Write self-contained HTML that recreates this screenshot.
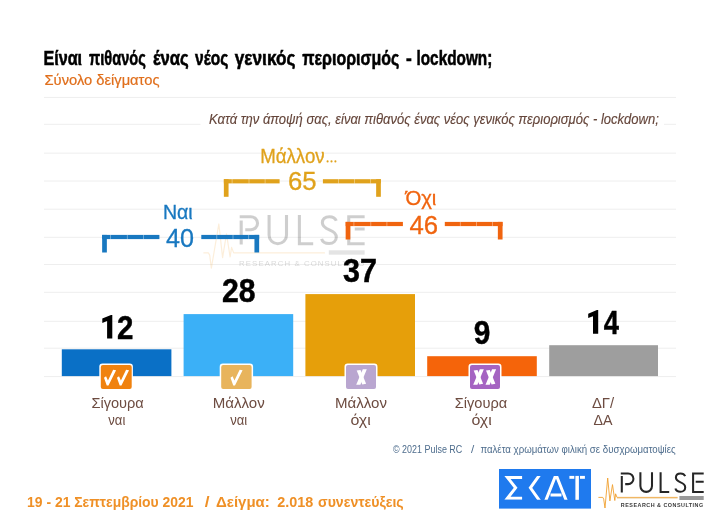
<!DOCTYPE html>
<html lang="el">
<head>
<meta charset="utf-8">
<title>Pulse RC</title>
<style>
html,body{margin:0;padding:0;background:#fff;}
body{width:716px;height:521px;overflow:hidden;font-family:"Liberation Sans",sans-serif;}
svg{display:block;will-change:transform;}
text{font-family:"Liberation Sans",sans-serif;}
.b{font-weight:bold;}
.i{font-style:italic;}
.grid line{stroke:#eeeeee;stroke-width:1;}
.val{font-weight:bold;font-size:33px;fill:#000;text-anchor:middle;stroke:#000;stroke-width:0.45px;}
.cat{font-size:15.5px;fill:#6d4c41;text-anchor:middle;}
</style>
</head>
<body>
<svg width="716" height="521" viewBox="0 0 716 521">
<rect width="716" height="521" fill="#fff"/>

<!-- gridlines -->
<g class="grid">
<line x1="44" x2="676" y1="97.4" y2="97.4"/>
<line x1="44" x2="676" y1="124.3" y2="124.3"/>
<line x1="44" x2="676" y1="153.15" y2="153.15"/>
<line x1="44" x2="676" y1="181" y2="181"/>
<line x1="44" x2="676" y1="209.2" y2="209.2"/>
<line x1="44" x2="676" y1="237.3" y2="237.3"/>
<line x1="44" x2="676" y1="264.5" y2="264.5"/>
<line x1="44" x2="676" y1="292.3" y2="292.3"/>
<line x1="44" x2="676" y1="321.3" y2="321.3"/>
<line x1="44" x2="676" y1="348.2" y2="348.2"/>
<line x1="44" x2="676" y1="376.6" y2="376.6"/>
</g>

<!-- title -->
<g class="b" font-size="20" fill="#000" stroke="#000" stroke-width="0.55">
<text x="43.4" y="65.3" textLength="38.7" lengthAdjust="spacingAndGlyphs">Είναι</text>
<text x="89.0" y="65.3" textLength="56.8" lengthAdjust="spacingAndGlyphs">πιθανός</text>
<text x="152.9" y="65.3" textLength="35.8" lengthAdjust="spacingAndGlyphs">ένας</text>
<text x="195.0" y="65.3" textLength="33.3" lengthAdjust="spacingAndGlyphs">νέος</text>
<text x="234.8" y="65.3" textLength="60.6" lengthAdjust="spacingAndGlyphs">γενικός</text>
<text x="302.3" y="65.3" textLength="97.0" lengthAdjust="spacingAndGlyphs">περιορισμός</text>
<text x="406.0" y="65.3" textLength="5.8" lengthAdjust="spacingAndGlyphs">-</text>
<text x="416.5" y="65.3" textLength="75.8" lengthAdjust="spacingAndGlyphs">lockdown;</text>
</g>
<text x="44.5" y="85.2" font-size="15" fill="#e06f1c" stroke="#e06f1c" stroke-width="0.2" textLength="115" lengthAdjust="spacingAndGlyphs">Σύνολο δείγματος</text>

<!-- question -->
<rect x="200.5" y="108" width="463.5" height="22" fill="#fff"/>
<text class="i" x="209" y="123.9" font-size="15" fill="#65463b" stroke="#65463b" stroke-width="0.15" textLength="449.8" lengthAdjust="spacingAndGlyphs">Κατά την άποψή σας, είναι πιθανός ένας νέος γενικός περιορισμός - lockdown;</text>

<!-- watermark -->
<g id="wm" opacity="0.22" transform="translate(239.4,214.9) scale(1.5,1.462)">
  <g fill="none" stroke="#262626" stroke-width="2.05">
    <path d="M1.2 3.9 V20.3 M0.2 1.2 H7.6 A4.5 4.5 0 0 1 7.6 10.2 H3.9"/>
    <path d="M19.8 0 V13.9 A5.8 5.8 0 0 0 31.4 13.9 V0"/>
    <path d="M40 0 V19.7 H49.2"/>
    <path d="M64.6 4 C63.8 2.2 62 1.2 60 1.2 C57 1.2 55.3 3 55.3 5.4 C55.3 8 57.5 9.2 60 10.2 C62.8 11.3 64.6 12.6 64.6 15.2 C64.6 17.8 62.6 19.6 59.8 19.6 C57.2 19.6 55.3 18.2 54.8 16.4"/>
    <path d="M83.5 1.2 H72.9 V19.7 H83.5 M76.9 9.6 H83.5"/>
  </g>
  <path d="M-24 26 H-20.6 L-19.8 27.6 L-18.7 36.4 L-13.7 6.2 L-11.2 29.2 L-8.6 13 L-6.2 28.8 L-5.2 22.2 L-3.8 26 H57" fill="none" stroke="#f0a030" stroke-width="0.8" stroke-opacity="0.8" stroke-linejoin="round"/>
  <rect x="59.6" y="24.2" width="23.9" height="3" fill="#8a8a8a"/>
  <text x="-0.2" y="35.2" font-size="5.2" fill="#555" textLength="83.5" lengthAdjust="spacing">RESEARCH &amp; CONSULTING</text>
</g>

<!-- bars -->
<rect x="61.8" y="349.3" width="109.6" height="26.8" fill="#0a70c6"/>
<rect x="183.6" y="314.1" width="109.6" height="62" fill="#3bb0f7"/>
<rect x="305.4" y="294.1" width="109.6" height="82" fill="#e69f0a"/>
<rect x="427.2" y="356.2" width="109.6" height="19.9" fill="#f5640a"/>
<rect x="549.2" y="345.2" width="108.8" height="30.9" fill="#9e9e9e"/>

<!-- values -->
<polygon fill="#000" points="112.30,315.00 112.30,338.60 107.10,338.60 107.10,321.10 102.30,322.90 102.30,318.60 111.00,315.00"/>
<text class="val" x="125.1" y="338.6" textLength="16.4" lengthAdjust="spacingAndGlyphs">2</text>
<text class="val" x="238.85" y="302" textLength="33.6" lengthAdjust="spacingAndGlyphs">28</text>
<text class="val" x="360.05" y="281.9" textLength="34" lengthAdjust="spacingAndGlyphs">37</text>
<text class="val" x="482.1" y="344.4" textLength="16.6" lengthAdjust="spacingAndGlyphs">9</text>
<polygon fill="#000" points="598.20,310.10 598.20,333.70 593.00,333.70 593.00,316.20 588.20,318.00 588.20,313.70 596.90,310.10"/>
<text class="val" x="611.4" y="333.7" textLength="15.2" lengthAdjust="spacingAndGlyphs">4</text>

<!-- brackets -->
<g fill="#1878c0">
  <rect x="102.15" y="234.90" width="4.7" height="17.6"/>
  <rect x="102.15" y="234.90" width="57.25" height="4.2"/>
  <rect x="254.45" y="234.90" width="4.7" height="17.6"/>
  <rect x="201.30" y="234.90" width="57.85" height="4.2"/>
</g>
<g fill="#fff" opacity="0.45"><rect x="110.00" y="234.70" width="0.8" height="4.6000000000000005"/><rect x="126.90" y="234.70" width="0.8" height="4.6000000000000005"/><rect x="143.00" y="234.70" width="0.8" height="4.6000000000000005"/><rect x="216.40" y="234.70" width="0.8" height="4.6000000000000005"/><rect x="232.60" y="234.70" width="0.8" height="4.6000000000000005"/><rect x="248.30" y="234.70" width="0.8" height="4.6000000000000005"/></g>
<text x="162.9" y="218.6" font-size="19.5" fill="#1878c0" stroke="#1878c0" stroke-width="0.3" textLength="29.8" lengthAdjust="spacingAndGlyphs">Ναι</text>
<text x="180" y="246.8" font-size="25.4" fill="#1878c0" stroke="#1878c0" stroke-width="0.3" text-anchor="middle" textLength="28" lengthAdjust="spacingAndGlyphs">40</text>
<g fill="#e0a21c">
  <rect x="223.85" y="179.20" width="4.7" height="17.6"/>
  <rect x="223.85" y="179.20" width="55.75" height="4.2"/>
  <rect x="376.15" y="179.20" width="4.7" height="17.6"/>
  <rect x="322.90" y="179.20" width="57.95" height="4.2"/>
  <circle cx="327.6" cy="161.4" r="1.05"/>
  <circle cx="331.5" cy="161.4" r="1.05"/>
  <circle cx="335.4" cy="161.4" r="1.05"/>
</g>
<g fill="#fff" opacity="0.45"><rect x="231.70" y="179.00" width="0.8" height="4.6000000000000005"/><rect x="248.60" y="179.00" width="0.8" height="4.6000000000000005"/><rect x="264.70" y="179.00" width="0.8" height="4.6000000000000005"/><rect x="338.00" y="179.00" width="0.8" height="4.6000000000000005"/><rect x="354.00" y="179.00" width="0.8" height="4.6000000000000005"/><rect x="370.10" y="179.00" width="0.8" height="4.6000000000000005"/></g>
<text x="260.2" y="162.8" font-size="20" fill="#e0a21c" stroke="#e0a21c" stroke-width="0.3" textLength="64.4" lengthAdjust="spacingAndGlyphs">Μάλλον</text>
<text x="302.2" y="190.4" font-size="25.4" fill="#e0a21c" stroke="#e0a21c" stroke-width="0.3" text-anchor="middle" textLength="28.6" lengthAdjust="spacingAndGlyphs">65</text>
<g fill="#f0640f">
  <rect x="345.65" y="221.90" width="4.7" height="17.6"/>
  <rect x="345.65" y="221.90" width="57.25" height="4.2"/>
  <rect x="497.85" y="221.90" width="4.7" height="17.6"/>
  <rect x="444.80" y="221.90" width="57.75" height="4.2"/>
</g>
<g fill="#fff" opacity="0.45"><rect x="353.50" y="221.70" width="0.8" height="4.6000000000000005"/><rect x="370.40" y="221.70" width="0.8" height="4.6000000000000005"/><rect x="386.50" y="221.70" width="0.8" height="4.6000000000000005"/><rect x="459.90" y="221.70" width="0.8" height="4.6000000000000005"/><rect x="476.20" y="221.70" width="0.8" height="4.6000000000000005"/><rect x="492.10" y="221.70" width="0.8" height="4.6000000000000005"/></g>
<text x="405.4" y="205" font-size="20" fill="#f0640f" stroke="#f0640f" stroke-width="0.3" textLength="31" lengthAdjust="spacingAndGlyphs">Όχι</text>
<text x="423.8" y="233.5" font-size="26" fill="#f0640f" stroke="#f0640f" stroke-width="0.3" text-anchor="middle" textLength="28.6" lengthAdjust="spacingAndGlyphs">46</text>

<!-- icons -->
<g id="icons">
  <rect x="99.3" y="363.5" width="33.6" height="26.6" rx="3.2" fill="#fff"/>
  <rect x="100.8" y="365" width="30.9" height="24.1" rx="2" fill="#f0820f"/>
  <polygon points="103.99,377.63 106.06,376.24 107.96,380.56 113.14,369.68 116.08,370.20 108.48,385.40 106.75,385.40" fill="#fff"/>
  <polygon points="116.94,377.63 119.01,376.24 120.91,380.56 126.09,369.68 129.03,370.20 121.43,385.40 119.70,385.40" fill="#fff"/>

  <rect x="219.7" y="363.5" width="33.4" height="26.6" rx="3.2" fill="#fff"/>
  <rect x="221.2" y="365" width="30.4" height="24.1" rx="2" fill="#e8b45c"/>
  <polygon points="230.49,377.63 232.56,376.24 234.46,380.56 239.64,369.68 242.58,370.20 234.98,385.40 233.25,385.40" fill="#fff"/>

  <rect x="344.5" y="363.5" width="33" height="26.6" rx="3.2" fill="#fff"/>
  <rect x="346" y="365" width="30" height="24.1" rx="2" fill="#b9a6d0"/>
  <polygon points="362.80,369.3 366.80,369.3 360.40,384.8 356.20,384.8" fill="#fff"/>
  <polygon points="356.70,370.50 360.50,369.90 366.10,383.80 362.30,384.40" fill="#fff"/>

  <rect x="468.5" y="363.5" width="33" height="26.6" rx="3.2" fill="#fff"/>
  <rect x="470" y="365" width="30" height="24.1" rx="2" fill="#a564c2"/>
  <polygon points="479.80,369.3 483.80,369.3 477.40,384.8 473.20,384.8" fill="#fff"/>
  <polygon points="473.70,370.50 477.50,369.90 483.10,383.80 479.30,384.40" fill="#fff"/>
  <polygon points="492.10,369.3 496.10,369.3 489.70,384.8 485.50,384.8" fill="#fff"/>
  <polygon points="486.00,370.50 489.80,369.90 495.40,383.80 491.60,384.40" fill="#fff"/>
</g>

<!-- category labels -->
<text class="cat" x="117.6" y="408.4" textLength="52.4" lengthAdjust="spacingAndGlyphs">Σίγουρα</text>
<text class="cat" x="116.8" y="424.6" textLength="17" lengthAdjust="spacingAndGlyphs">ναι</text>
<text class="cat" x="238.7" y="408.4" textLength="52" lengthAdjust="spacingAndGlyphs">Μάλλον</text>
<text class="cat" x="238.7" y="424.6" textLength="17" lengthAdjust="spacingAndGlyphs">ναι</text>
<text class="cat" x="361" y="408.4" textLength="52" lengthAdjust="spacingAndGlyphs">Μάλλον</text>
<text class="cat" x="360.6" y="424.6" textLength="20.4" lengthAdjust="spacingAndGlyphs">όχι</text>
<text class="cat" x="481" y="408.4" textLength="52.4" lengthAdjust="spacingAndGlyphs">Σίγουρα</text>
<text class="cat" x="481.6" y="424.6" textLength="20.4" lengthAdjust="spacingAndGlyphs">όχι</text>
<text class="cat" x="603" y="408.4" textLength="22.2" lengthAdjust="spacingAndGlyphs">ΔΓ/</text>
<text class="cat" x="603" y="424.6" textLength="19" lengthAdjust="spacingAndGlyphs">ΔΑ</text>

<!-- footer -->
<text x="393" y="453.2" font-size="11.6" fill="#4e6d8d" textLength="69.3" lengthAdjust="spacingAndGlyphs">© 2021 Pulse RC</text>
<text x="470.9" y="453.2" font-size="11.6" fill="#4e6d8d">/</text>
<text x="480.4" y="453.2" font-size="11.6" fill="#4e6d8d" textLength="195.3" lengthAdjust="spacingAndGlyphs">παλέτα χρωμάτων φιλική σε δυσχρωματοψίες</text>

<!-- date -->
<g font-size="14.9" fill="#ef9026" font-weight="bold">
<text x="27.1" y="507" textLength="166.4" lengthAdjust="spacingAndGlyphs">19 - 21 Σεπτεμβρίου 2021</text>
<text x="204.7" y="507" textLength="4.8" lengthAdjust="spacingAndGlyphs">/</text>
<text x="216" y="507" textLength="53.8" lengthAdjust="spacingAndGlyphs">Δείγμα:</text>
<text x="277.2" y="507" textLength="36" lengthAdjust="spacingAndGlyphs">2.018</text>
<text x="318" y="507" textLength="85.7" lengthAdjust="spacingAndGlyphs">συνεντεύξεις</text>
</g>

<!-- SKAI logo -->
<rect x="499" y="469" width="92" height="39.6" fill="#1f7aee"/>
<clipPath id="skc"><rect x="500" y="475.9" width="90" height="23.9"/></clipPath>
<g fill="none" stroke="#fff" stroke-width="3" stroke-linejoin="miter" clip-path="url(#skc)">
  <path d="M522.1 477.4 H507.4 L515.6 487.8 L507.4 498.3 H522.1"/>
  <path d="M540 474.4 L530.4 487.8 L540 501.3"/>
  <path d="M545 502.4 L556 474.6 L567 502.4 M550.5 495 H561.5"/>
</g>
<g fill="#fff">
  <rect x="569.4" y="475.9" width="4.9" height="2.9"/>
  <rect x="575.4" y="475.9" width="3.5" height="23.9"/>
  <rect x="580" y="475.9" width="4.9" height="2.9"/>
</g>

<!-- PULSE logo -->
<defs>
<g id="pulselogo">
  <g fill="none" stroke="#262626" style="stroke-width:var(--sw,2.05)">
    <path class="pP" d="M1.2 3.9 V20.3 M0.2 1.2 H7.5 A5.35 5.35 0 0 1 7.5 11.9 H4.6"/>
    <path d="M19.8 0 V13.9 A5.8 5.8 0 0 0 31.4 13.9 V0"/>
    <path d="M40 0 V19.7 H48.6"/>
    <path d="M64.6 4 C63.8 2.2 62 1.2 60 1.2 C57 1.2 55.3 3 55.3 5.4 C55.3 8 57.5 9.2 60 10.2 C62.8 11.3 64.6 12.6 64.6 15.2 C64.6 17.8 62.6 19.6 59.8 19.6 C57.2 19.6 55.3 18.2 54.8 16.4"/>
    <path d="M83.1 1.2 H72.5 V19.7 H83.1 M75.1 9.6 H83.1"/>
  </g>
  <path d="M-22.2 25.2 H-17.8 L-16.9 26.9 L-15.6 35.8 L-12.9 5.8 L-10.7 28.7 L-8.1 12.4 L-5.8 28.3 L-5 21.6 L-3.6 25.2 H57" fill="none" stroke="#f0a030" stroke-width="0.9" stroke-linejoin="round"/>
  <path d="M-3.6 26 H57" fill="none" stroke="#e8c890" stroke-width="0.7"/>
  <rect x="58.8" y="23.8" width="24.3" height="4" fill="#9a9a9a"/>
  <text x="0.2" y="34.6" font-size="5.4" style="font-weight:var(--fw,bold)" fill="#3a3a3a" textLength="82.4" lengthAdjust="spacing">RESEARCH &amp; CONSULTING</text>
</g>
</defs>
<use href="#pulselogo" transform="translate(620.6,472.2)"/>

</svg>
</body>
</html>
